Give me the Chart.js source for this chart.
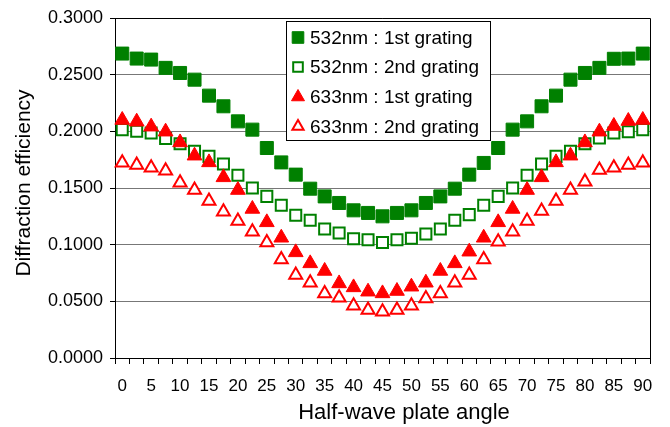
<!DOCTYPE html>
<html>
<head>
<meta charset="utf-8">
<script src="https://cdn.jsdelivr.net/npm/chart.js@4.4.0/dist/chart.umd.min.js"></script>
<style>
  body { margin: 0; background: #fff; }
  #wrap { width: 670px; height: 427px; }
</style>
</head>
<body>
<div id="wrap"><canvas id="myChart" width="670" height="427"></canvas></div>
<script>
// half-wave plate angle (deg), one point every 2.5
var angles = ["0","2.5","5","7.5","10","12.5","15","17.5","20","22.5","25","27.5","30","32.5","35","37.5","40","42.5","45",
              "47.5","50","52.5","55","57.5","60","62.5","65","67.5","70","72.5","75","77.5","80","82.5","85","87.5","90"];

var seriesNames = ["532nm : 1st grating", "532nm : 2nd grating", "633nm : 1st grating", "633nm : 2nd grating"];
var xTitle = 'Half-wave plate angle';
var yTitle = 'Diffraction efficiency';

var green1st = [0.2686,0.2642,0.2633,0.2560,0.2515,0.2456,0.2315,0.2221,0.2088,0.2015,0.1853,0.1726,0.1618,0.1494,0.1426,0.1368,0.1303,0.1280,0.1250,
                0.1280,0.1303,0.1368,0.1426,0.1494,0.1618,0.1721,0.1853,0.2015,0.2088,0.2221,0.2315,0.2456,0.2515,0.2560,0.2640,0.2642,0.2686];
var green2nd = [0.2015,0.2000,0.1986,0.1936,0.1891,0.1824,0.1779,0.1712,0.1612,0.1500,0.1426,0.1347,0.1259,0.1215,0.1138,0.1103,0.1053,0.1044,0.1020,
                0.1044,0.1056,0.1094,0.1138,0.1215,0.1265,0.1347,0.1426,0.1500,0.1612,0.1712,0.1779,0.1824,0.1891,0.1941,0.1986,0.1997,0.2015];
var red1st   = [0.2100,0.2085,0.2041,0.1997,0.1902,0.1785,0.1726,0.1594,0.1482,0.1315,0.1197,0.1061,0.0932,0.0835,0.0768,0.0658,0.0623,0.0585,0.0570,
                0.0591,0.0629,0.0664,0.0768,0.0835,0.0938,0.1061,0.1197,0.1315,0.1482,0.1594,0.1726,0.1785,0.1902,0.1997,0.2047,0.2091,0.2100];
var red2nd   = [0.1723,0.1703,0.1679,0.1653,0.1547,0.1482,0.1385,0.1291,0.1209,0.1114,0.1020,0.0870,0.0732,0.0664,0.0570,0.0532,0.0461,0.0423,0.0408,
                0.0423,0.0461,0.0526,0.0570,0.0664,0.0732,0.0870,0.1026,0.1114,0.1209,0.1297,0.1385,0.1482,0.1556,0.1659,0.1679,0.1703,0.1723];

var GREEN = '#008000', RED = '#ff0000';
var FONT = '"Liberation Sans", Arial, Helvetica, sans-serif';

// legend box inside the plot, top/right frame, axis titles
var frameAndLegend = {
  id: 'frameAndLegend',
  afterDraw: function(chart) {
    var ctx = chart.ctx, a = chart.chartArea;
    ctx.save();
    ctx.strokeStyle = '#000';
    ctx.lineWidth = 1;
    ctx.beginPath();
    ctx.moveTo(a.left, a.top + 0.5);
    ctx.lineTo(a.right + 0.5, a.top + 0.5);
    ctx.lineTo(a.right + 0.5, a.bottom);
    ctx.stroke();

    var bx = 286, by = 21, bw = 204, bh = 119;
    ctx.fillStyle = '#fff';
    ctx.fillRect(bx, by, bw, bh);
    ctx.strokeRect(bx + 0.5, by + 0.5, bw, bh);

    var rows = [37.5, 67, 97, 126.5];
    ctx.font = '19px ' + FONT;
    ctx.textBaseline = 'middle';
    ctx.textAlign = 'left';
    for (var i = 0; i < seriesNames.length; i++) {
      var ds = chart.data.datasets[i];
      var cx = 298, cy = rows[i];
      ctx.lineWidth = ds.borderWidth;
      ctx.fillStyle = ds.backgroundColor;
      ctx.strokeStyle = ds.borderColor;
      Chart.helpers.drawPoint(ctx, {pointStyle: ds.pointStyle, radius: ds.pointRadius - 1, borderWidth: ds.borderWidth, rotation: 0}, cx, cy);
      ctx.fillStyle = '#000';
      ctx.fillText(seriesNames[i], 310, cy + 1);
    }

    // axis titles
    ctx.font = '22px ' + FONT;
    ctx.fillStyle = '#000';
    ctx.textAlign = 'center';
    ctx.textBaseline = 'middle';
    ctx.fillText(xTitle, 404, 413);
    ctx.translate(24, 183);
    ctx.rotate(-Math.PI / 2);
    ctx.font = '21px ' + FONT;
    ctx.fillText(yTitle, 0, 0);
    ctx.restore();
  }
};

var ctx = document.getElementById('myChart').getContext('2d');
var myChart = new Chart(ctx, {
  type: 'line',
  data: {
    labels: angles,
    datasets: [
      { label: seriesNames[0], data: green1st, showLine: false, pointStyle: 'rect', pointRadius: 9.2,
        backgroundColor: GREEN, borderColor: GREEN, borderWidth: 1, order: 3 },
      { label: seriesNames[1], data: green2nd, showLine: false, pointStyle: 'rect', pointRadius: 7.8,
        backgroundColor: '#fff', borderColor: GREEN, borderWidth: 2, order: 2 },
      { label: seriesNames[2], data: red1st, showLine: false, pointStyle: 'triangle', pointRadius: 8.5,
        backgroundColor: RED, borderColor: RED, borderWidth: 1, order: 1 },
      { label: seriesNames[3], data: red2nd, showLine: false, pointStyle: 'triangle', pointRadius: 7.5,
        backgroundColor: '#fff', borderColor: RED, borderWidth: 2, order: 0 }
    ]
  },
  options: {
    responsive: false,
    animation: false,
    layout: { padding: { left: 0, right: 20, top: 18, bottom: 0 } },
    plugins: { legend: { display: false }, tooltip: { enabled: false } },
    elements: { point: { hoverRadius: 9 } },
    scales: {
      x: {
        type: 'category',
        offset: true,
        grid: { offset: true, drawOnChartArea: false, tickLength: 6, tickColor: '#000' },
        border: { color: '#000' },
        ticks: {
          autoSkip: false, maxRotation: 0, padding: 12, color: '#000',
          font: { family: FONT, size: 17 },
          callback: function(v, i) { return i % 2 === 0 ? angles[i] : ''; }
        },
        afterFit: function(s) { s.height = 69; }
      },
      y: {
        min: 0, max: 0.3,
        grid: { color: '#777', tickLength: 5, tickColor: '#000' },
        border: { color: '#000' },
        ticks: {
          stepSize: 0.05, padding: 7, color: '#000',
          font: { family: FONT, size: 18 },
          callback: function(v) { return v.toFixed(4); }
        },
        afterFit: function(s) { s.width = 115; }
      }
    }
  },
  plugins: [frameAndLegend]
});
</script>
</body>
</html>
